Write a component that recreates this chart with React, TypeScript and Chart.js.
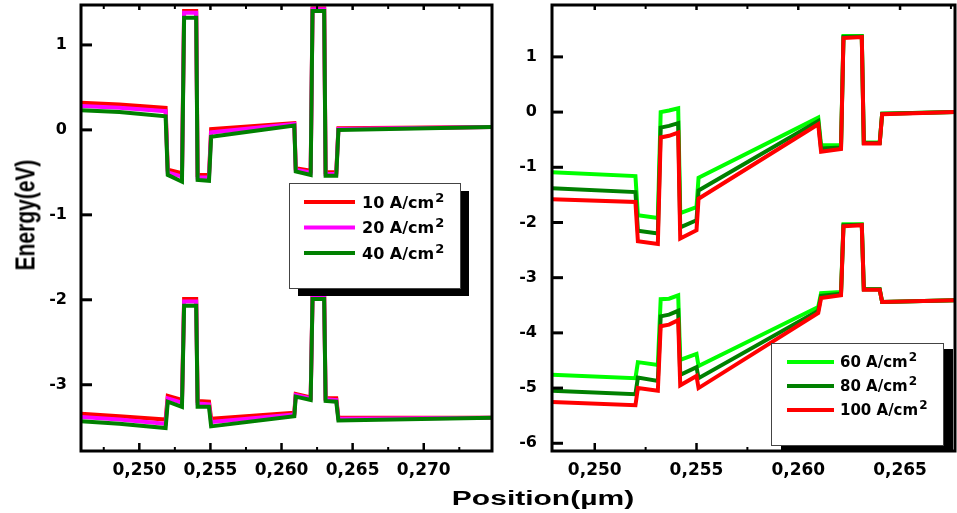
import React, { useEffect, useRef } from 'react';
import { Chart, registerables } from 'chart.js';

Chart.register(...registerables);

const FONT = "'DejaVu Sans', 'Liberation Sans', sans-serif";
const W = 957;
const H = 513;

// ---------------- Left panel (10 / 20 / 40 A/cm²) ----------------
const leftPosition = [0.2459, 0.2486, 0.25185, 0.252, 0.253, 0.25315, 0.254, 0.2541, 0.2549, 0.25505, 0.2609, 0.261, 0.26205, 0.26218, 0.263, 0.2631, 0.26385, 0.264, 0.2748];
const leftCB_10 = [0.32, 0.3, 0.26, -0.47, -0.51, 1.4, 1.4, -0.53, -0.53, 0.01, 0.08, -0.45, -0.48, 1.43, 1.43, -0.5, -0.5, 0.02, 0.035];
const leftCB_20 = [0.28, 0.26, 0.22, -0.5, -0.55, 1.38, 1.38, -0.56, -0.56, -0.03, 0.07, -0.47, -0.5, 1.42, 1.42, -0.52, -0.52, 0.01, 0.035];
const leftCB_40 = [0.23, 0.21, 0.16, -0.53, -0.61, 1.32, 1.32, -0.59, -0.6, -0.08, 0.05, -0.49, -0.53, 1.4, 1.4, -0.54, -0.54, 0.0, 0.035];
const leftVB_10 = [-3.34, -3.37, -3.41, -3.13, -3.18, -1.99, -1.99, -3.19, -3.2, -3.4, -3.33, -3.11, -3.15, -1.96, -1.96, -3.16, -3.16, -3.39, -3.39];
const leftVB_20 = [-3.38, -3.41, -3.46, -3.16, -3.21, -2.02, -2.02, -3.22, -3.23, -3.44, -3.35, -3.12, -3.16, -1.97, -1.97, -3.17, -3.18, -3.4, -3.39];
const leftVB_40 = [-3.43, -3.46, -3.51, -3.2, -3.26, -2.07, -2.07, -3.26, -3.26, -3.49, -3.37, -3.14, -3.18, -1.99, -1.99, -3.19, -3.2, -3.42, -3.39];
const leftLabels = ['10 A/cm²', '20 A/cm²', '40 A/cm²'];
const leftColors = ['#ff0000', '#ff00ff', '#008000'];
const leftXRange = [0.2459, 0.2748];
const leftYRange = [-3.78, 1.47];

// ---------------- Right panel (60 / 80 / 100 A/cm²) ----------------
const rightPosition = [0.2479, 0.252, 0.25212, 0.2531, 0.25324, 0.25365, 0.2541, 0.2542, 0.255, 0.2551, 0.26098, 0.26112, 0.2621, 0.26222, 0.26312, 0.26322, 0.264, 0.26412, 0.2677];
const rightCB_60 = [-1.09, -1.16, -1.87, -1.92, 0.0, 0.03, 0.07, -1.83, -1.72, -1.19, -0.1, -0.6, -0.6, 1.38, 1.38, -0.55, -0.55, -0.03, 0.0];
const rightCB_80 = [-1.38, -1.45, -2.15, -2.2, -0.28, -0.25, -0.2, -2.09, -1.96, -1.42, -0.16, -0.66, -0.64, 1.36, 1.37, -0.56, -0.56, -0.03, 0.0];
const rightCB_100 = [-1.58, -1.63, -2.34, -2.39, -0.46, -0.43, -0.37, -2.29, -2.14, -1.57, -0.22, -0.72, -0.67, 1.34, 1.36, -0.57, -0.57, -0.04, 0.0];
const rightVB_60 = [-4.76, -4.82, -4.53, -4.58, -3.39, -3.38, -3.32, -4.49, -4.38, -4.6, -3.53, -3.28, -3.26, -2.03, -2.03, -3.21, -3.21, -3.44, -3.41];
const rightVB_80 = [-5.05, -5.11, -4.81, -4.87, -3.7, -3.67, -3.6, -4.76, -4.62, -4.82, -3.6, -3.33, -3.29, -2.05, -2.04, -3.21, -3.21, -3.44, -3.41];
const rightVB_100 = [-5.25, -5.31, -5.0, -5.05, -3.88, -3.85, -3.77, -4.95, -4.78, -5.0, -3.64, -3.37, -3.32, -2.07, -2.05, -3.22, -3.22, -3.44, -3.41];
const rightLabels = ['60 A/cm²', '80 A/cm²', '100 A/cm²'];
const rightColors = ['#00ff00', '#008000', '#ff0000'];
const rightXRange = [0.2479, 0.2677];
const rightYRange = [-6.14, 1.94];

const xTickStep = 0.005;
const yTickStep = 1;

const fmtX = (v: number) => Number(v).toFixed(3).replace('.', ',');

const frameTicks = {
  id: 'frameTicks',
  afterDatasetsDraw(chart: any) {
    const { ctx, chartArea: a, scales } = chart;
    const xs = scales.x;
    const ys = scales.y;
    const step = xs.options.ticks.stepSize;
    const seg = (x1: number, y1: number, x2: number, y2: number) => {
      ctx.beginPath();
      ctx.moveTo(x1, y1);
      ctx.lineTo(x2, y2);
      ctx.stroke();
    };
    ctx.save();
    ctx.strokeStyle = '#000';
    ctx.lineCap = 'butt';
    const majors: number[] = xs.ticks.map((t: any) => t.value);
    ctx.lineWidth = 2.5;
    majors.forEach((v) => {
      const px = xs.getPixelForValue(v);
      seg(px, a.bottom, px, a.bottom - 8);
      seg(px, a.top, px, a.top + 5);
    });
    const minors = new Set<number>();
    majors.forEach((v) => {
      [v - step / 2, v + step / 2].forEach((m) => {
        const r = Math.round(m * 1e6) / 1e6;
        if (r >= xs.min && r <= xs.max) minors.add(r);
      });
    });
    ctx.lineWidth = 2;
    minors.forEach((m) => {
      const px = xs.getPixelForValue(m);
      seg(px, a.bottom, px, a.bottom - 4);
      seg(px, a.top, px, a.top + 4);
    });
    ctx.lineWidth = 3;
    ys.ticks.forEach((t: any) => {
      const py = ys.getPixelForValue(t.value);
      seg(a.left, py, a.left + 11, py);
    });
    ctx.strokeRect(a.left, a.top, a.right - a.left, a.bottom - a.top);
    ctx.restore();
  },
};

const boxLegend = {
  id: 'boxLegend',
  afterDraw(chart: any, _args: any, o: any) {
    if (!o || !o.items) return;
    const { ctx } = chart;
    ctx.save();
    ctx.fillStyle = '#000';
    ctx.fillRect(o.x + o.sx, o.y + o.sy, o.w, o.h);
    ctx.fillStyle = '#fff';
    ctx.fillRect(o.x, o.y, o.w, o.h);
    ctx.strokeStyle = '#444';
    ctx.lineWidth = 1;
    ctx.strokeRect(o.x + 0.5, o.y + 0.5, o.w, o.h);
    o.items.forEach((it: any, i: number) => {
      const ry = o.y + o.row0 + i * o.rowGap;
      ctx.strokeStyle = it.color;
      ctx.lineWidth = 4;
      ctx.beginPath();
      ctx.moveTo(o.x + o.lineX, ry);
      ctx.lineTo(o.x + o.lineX + o.lineLen, ry);
      ctx.stroke();
      const main = it.label.replace('²', '');
      ctx.fillStyle = '#000';
      ctx.textBaseline = 'alphabetic';
      ctx.textAlign = 'left';
      ctx.font = `bold ${o.size}px ${FONT}`;
      const base = ry + o.size * 0.365;
      ctx.fillText(main, o.x + o.textX, base);
      const w = ctx.measureText(main).width;
      ctx.font = `bold ${o.supSize}px ${FONT}`;
      ctx.fillText('2', o.x + o.textX + w + 1, base - o.supRise);
    });
    ctx.restore();
  },
};

const zeroPad = (s: any) => {
  s.paddingTop = 0;
  s.paddingBottom = 0;
  s.paddingLeft = 0;
  s.paddingRight = 0;
};

function buildConfig(p: any) {
  const datasets: any[] = [];
  const n = p.labels.length;
  const add = (vals: number[], i: number) => {
    datasets.push({
      label: p.labels[i],
      data: p.xs.map((x: number, k: number) => ({ x, y: vals[k] })),
      borderColor: p.colors[i],
      backgroundColor: p.colors[i],
      borderWidth: 4,
      pointRadius: 0,
      fill: false,
      tension: 0,
      order: n - i,
    });
  };
  p.cb.forEach(add);
  p.vb.forEach(add);
  return {
    type: 'line',
    data: { datasets },
    plugins: [frameTicks, boxLegend],
    options: {
      responsive: false,
      animation: false,
      devicePixelRatio: 1,
      layout: { padding: { left: 0, right: p.padRight, top: 5, bottom: 0 } },
      plugins: {
        legend: { display: false },
        tooltip: { enabled: false },
        boxLegend: p.legend,
      },
      scales: {
        x: {
          type: 'linear',
          min: p.xRange[0],
          max: p.xRange[1],
          grid: { display: false, drawTicks: false },
          border: { display: false },
          ticks: {
            stepSize: xTickStep,
            includeBounds: false,
            autoSkip: false,
            maxRotation: 0,
            padding: 9,
            color: '#000',
            font: { family: FONT, size: 17, weight: 'bold' },
            callback: (v: any) => fmtX(v),
          },
          afterFit: (s: any) => {
            s.height = 62;
            zeroPad(s);
          },
        },
        y: {
          type: 'linear',
          min: p.yRange[0],
          max: p.yRange[1],
          grid: { display: false, drawTicks: false },
          border: { display: false },
          ticks: {
            stepSize: yTickStep,
            includeBounds: false,
            autoSkip: false,
            padding: p.yPad,
            color: '#000',
            font: { family: FONT, size: 16, weight: 'bold' },
            callback: (v: any) => String(v),
          },
          afterFit: (s: any) => {
            s.width = p.yWidth;
            zeroPad(s);
          },
        },
      },
    },
  };
}

function Panel({ left, width, params }: any) {
  const ref = useRef<HTMLCanvasElement>(null);
  useEffect(() => {
    const chart = new Chart(ref.current as HTMLCanvasElement, buildConfig(params) as any);
    return () => chart.destroy();
  }, []);
  return (
    <canvas
      ref={ref}
      width={width}
      height={H}
      style={{ position: 'absolute', left, top: 0, width, height: H }}
    />
  );
}

const leftParams = {
  xs: leftPosition,
  cb: [leftCB_10, leftCB_20, leftCB_40],
  vb: [leftVB_10, leftVB_20, leftVB_40],
  labels: leftLabels,
  colors: leftColors,
  xRange: leftXRange,
  yRange: leftYRange,
  yWidth: 81,
  yPad: 14,
  padRight: 8,
  legend: {
    items: leftLabels.map((label, i) => ({ label, color: leftColors[i] })),
    x: 289, y: 183, w: 171, h: 105, sx: 9, sy: 8,
    row0: 19, rowGap: 25.5, lineX: 15, lineLen: 51, textX: 73,
    size: 16, supSize: 13, supRise: 6,
  },
};

const rightParams = {
  xs: rightPosition,
  cb: [rightCB_60, rightCB_80, rightCB_100],
  vb: [rightVB_60, rightVB_80, rightVB_100],
  labels: rightLabels,
  colors: rightColors,
  xRange: rightXRange,
  yRange: rightYRange,
  yWidth: 52,
  yPad: 15,
  padRight: 2,
  legend: {
    items: rightLabels.map((label, i) => ({ label, color: rightColors[i] })),
    x: 271, y: 343, w: 172, h: 102, sx: 10, sy: 6,
    row0: 19, rowGap: 24, lineX: 16, lineLen: 47, textX: 69,
    size: 15, supSize: 12, supRise: 6,
  },
};

export default function App() {
  return (
    <div style={{ position: 'absolute', left: 0, top: 0, width: W, height: H, overflow: 'hidden', background: '#fff' }}>
      <Panel left={0} width={500} params={leftParams} />
      <Panel left={500} width={457} params={rightParams} />
      <div
        style={{
          position: 'absolute',
          left: 543,
          top: 498,
          transform: 'translate(-50%, -50%) scaleX(1.5)',
          font: "bold 20px 'Liberation Sans', Arial, sans-serif",
          lineHeight: '20px',
          whiteSpace: 'nowrap',
          color: '#000',
        }}
      >
        Position(µm)
      </div>
      <div
        style={{
          position: 'absolute',
          left: 23.5,
          top: 215,
          transform: 'translate(-50%, -50%) scaleX(1.35) rotate(-90deg)',
          font: "bold 21px 'Liberation Sans', Arial, sans-serif",
          lineHeight: '21px',
          whiteSpace: 'nowrap',
          color: '#000',
        }}
      >
        Energy(eV)
      </div>
    </div>
  );
}
